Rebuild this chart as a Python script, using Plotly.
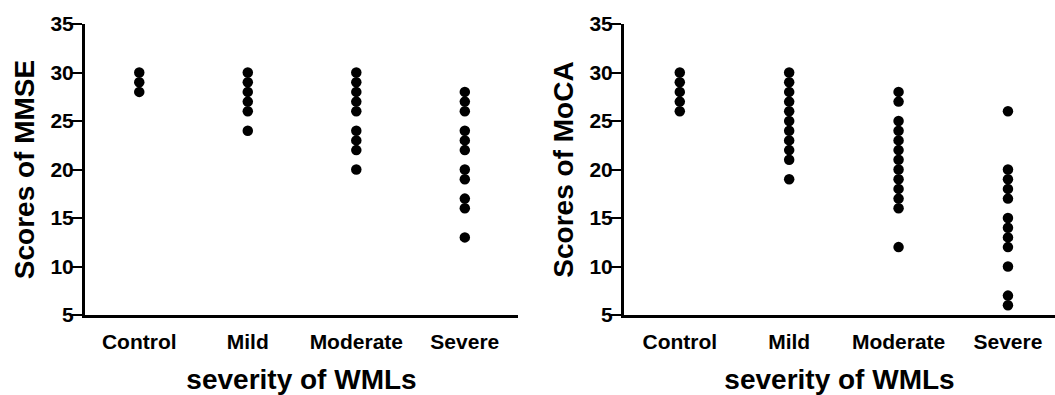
import plotly.graph_objects as go

categories = ["Control", "Mild", "Moderate", "Severe"]

mmse_control = [30, 29, 28]
mmse_mild = [30, 29, 28, 27, 26, 24]
mmse_moderate = [30, 29, 28, 27, 26, 24, 23, 22, 20]
mmse_severe = [28, 27, 26, 24, 23, 22, 20, 19, 17, 16, 13]

moca_control = [30, 29, 28, 27, 26]
moca_mild = [30, 29, 28, 27, 26, 25, 24, 23, 22, 21, 19]
moca_moderate = [28, 27, 25, 24, 23, 22, 21, 20, 19, 18, 17, 16, 12]
moca_severe = [26, 20, 19, 18, 17, 15, 14, 13, 12, 10, 7, 6]

y_ticks = [5, 10, 15, 20, 25, 30, 35]

mmse_groups = [mmse_control, mmse_mild, mmse_moderate, mmse_severe]
moca_groups = [moca_control, moca_mild, moca_moderate, moca_severe]

FONT = "Liberation Sans, Arial, sans-serif"

fig = go.Figure()

def add_panel(groups, xref, yref):
    xs, ys = [], []
    for cat, vals in zip(categories, groups):
        xs += [cat] * len(vals)
        ys += vals
    fig.add_trace(go.Scatter(
        x=xs, y=ys, mode="markers", xaxis=xref, yaxis=yref,
        marker=dict(color="black", size=10.5, line=dict(width=0)),
        showlegend=False, cliponaxis=False,
    ))

add_panel(mmse_groups, "x", "y")
add_panel(moca_groups, "x2", "y2")

W, H = 1055, 395
ydom = [1 - 315 / H, 1 - 24 / H]

xcommon = dict(
    type="category", categoryorder="array", categoryarray=categories,
    showline=True, linewidth=3, linecolor="black", ticks="",
    showgrid=False, zeroline=False, automargin=False, ticklabelstandoff=6,
    tickfont=dict(family=FONT, size=21, color="black", weight="bold"),
    title=dict(text="severity of WMLs", standoff=24,
               font=dict(family=FONT, size=28, color="black", weight="bold")),
)
ycommon = dict(
    range=[5, 35], tickvals=y_ticks, showline=True, linewidth=3,
    linecolor="black", ticks="outside", ticklen=10, tickwidth=2,
    tickcolor="black", showgrid=False, zeroline=False, automargin=False,
    ticklabelstandoff=-6,
    tickfont=dict(family=FONT, size=21, color="black", weight="bold"),
)

fig.update_layout(
    width=W, height=H,
    margin=dict(l=0, r=0, t=0, b=0),
    paper_bgcolor="white", plot_bgcolor="white",
    xaxis=dict(xcommon, domain=[85 / W, 518 / W], range=[-0.5, 3.49]),
    xaxis2=dict(xcommon, domain=[624 / W, 1.0], range=[-0.51, 3.43], anchor="y2"),
    yaxis=dict(ycommon, domain=ydom, anchor="x",
               title=dict(text="Scores of MMSE", standoff=8,
                          font=dict(family=FONT, size=28, color="black", weight="bold"))),
    yaxis2=dict(ycommon, domain=ydom, anchor="x2",
                title=dict(text="Scores of MoCA", standoff=8,
                           font=dict(family=FONT, size=28, color="black", weight="bold"))),
)

fig.write_html(
    "out.html",
    config={"displayModeBar": False},
    post_script="document.body.style.margin='0';document.body.style.overflow='hidden';",
)
